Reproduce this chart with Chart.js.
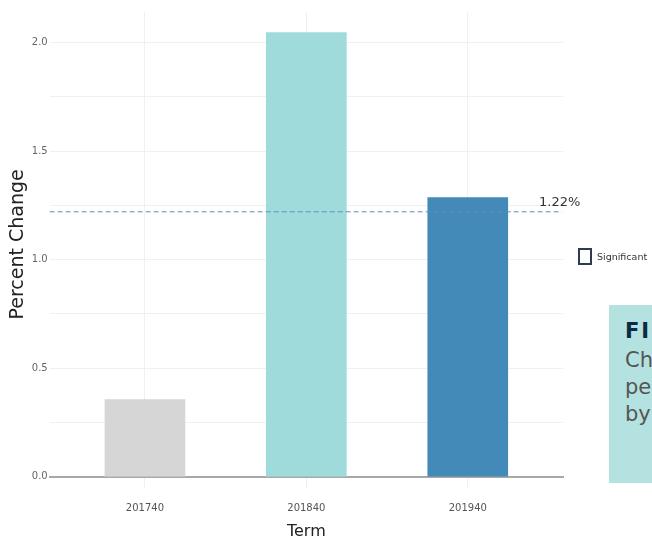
<!DOCTYPE html>
<html>
<head>
<meta charset="utf-8">
<script src="https://cdn.jsdelivr.net/npm/chart.js@4/dist/chart.umd.min.js"></script>
<style>
  html, body { margin: 0; padding: 0; background: #fff; }
  #wrap { position: relative; width: 652px; height: 537px; overflow: hidden; font-family: "DejaVu Sans", sans-serif; }
  #chart { position: absolute; left: 0; top: 0; }
  #legend { position: absolute; left: 578px; top: 248px; font-size: 9.5px; color: #333; display: flex; align-items: center; }
  #legend span.box { display: inline-block; width: 10px; height: 13px; border: 2px solid #2f3b50; margin-right: 5px; }
  #figure { position: absolute; left: 609px; top: 305px; width: 260px; height: 178px; background: #b3e2e0; padding: 13px 0 0 16px; box-sizing: border-box; white-space: nowrap; }
  #figure .head { font-weight: bold; font-size: 21px; color: #0c2a44; letter-spacing: 2px; line-height: 26px; }
  #figure .body { font-size: 21px; color: #555; line-height: 27px; margin-top: 3px; }
</style>
</head>
<body>
<div id="wrap">
  <canvas id="chart" width="652" height="541"></canvas>
  <div id="legend"><span class="box"></span>Significant</div>
  <div id="figure">
    <div class="head">FIGURE</div>
    <div class="body">Change in<br>percent change<br>by term</div>
  </div>
</div>
<script>
const terms = ['201740', '201840', '201940'];
const percentChange = [0.355, 2.045, 1.285];
const barColors = ['#d6d6d6', '#a0dbdb', '#438ab9'];
const averageChange = 1.22;

const FONT = '"DejaVu Sans", sans-serif';

// dashed reference line with its value label
const averageLine = {
    id: 'averageLine',
    afterDatasetsDraw(chart) {
        const { ctx, chartArea, scales } = chart;
        const y = scales.y.getPixelForValue(averageChange);
        ctx.save();
        ctx.strokeStyle = '#5f8fb8';
        ctx.lineWidth = 1;
        ctx.setLineDash([5, 3]);
        ctx.beginPath();
        ctx.moveTo(chartArea.left, y);
        ctx.lineTo(chartArea.right - 1, y);
        ctx.stroke();
        ctx.setLineDash([]);
        ctx.fillStyle = '#333';
        ctx.font = '13px ' + FONT;
        ctx.textAlign = 'left';
        ctx.textBaseline = 'bottom';
        ctx.fillText(averageChange.toFixed(2) + '%', chartArea.right - 24, y - 3);
        ctx.restore();
    }
};

const ctx = document.getElementById('chart').getContext('2d');
const chart = new Chart(ctx, {
    type: 'bar',
    data: {
        datasets: [{
            label: 'Percent Change',
            data: percentChange.map((v, i) => ({ x: i, y: v })),
            backgroundColor: barColors,
            borderWidth: 0,
            barThickness: 80
        }]
    },
    options: {
        responsive: false,
        animation: false,
        layout: { padding: { top: 12, right: 89, left: 7, bottom: 0 } },
        plugins: {
            legend: { display: false },
            tooltip: { enabled: false }
        },
        scales: {
            x: {
                type: 'linear',
                offset: false,
                min: -0.59,
                max: terms.length - 1 + 0.59,
                afterBuildTicks(axis) {
                    axis.ticks = terms.map((t, i) => ({ value: i }));
                },
                grid: { offset: false, color: '#f0f0f0', tickLength: 12 },
                border: { display: true, color: '#a8a8a8', width: 2 },
                ticks: {
                    color: '#555',
                    font: { family: FONT, size: 10 },
                    padding: 14,
                    callback: v => terms[v]
                },
                title: {
                    display: true,
                    text: 'Term',
                    color: '#222',
                    font: { family: FONT, size: 16 },
                    padding: { top: -7, bottom: 0 }
                }
            },
            y: {
                min: 0,
                max: 2.14,
                afterBuildTicks(axis) {
                    axis.ticks = axis.ticks.filter(t => Math.abs(t.value * 4 - Math.round(t.value * 4)) < 1e-6);
                },
                grid: { color: '#f0f0f0', drawTicks: false },
                border: { display: false },
                ticks: {
                    stepSize: 0.25,
                    color: '#666',
                    font: { family: FONT, size: 10 },
                    padding: 2,
                    callback: v => (Math.abs(v * 2 - Math.round(v * 2)) < 1e-6 ? v.toFixed(1) : '')
                },
                title: {
                    display: true,
                    text: 'Percent Change',
                    color: '#222',
                    font: { family: FONT, size: 19 },
                    padding: { top: 0, bottom: 0 }
                }
            }
        }
    },
    plugins: [averageLine]
});
</script>
</body>
</html>
